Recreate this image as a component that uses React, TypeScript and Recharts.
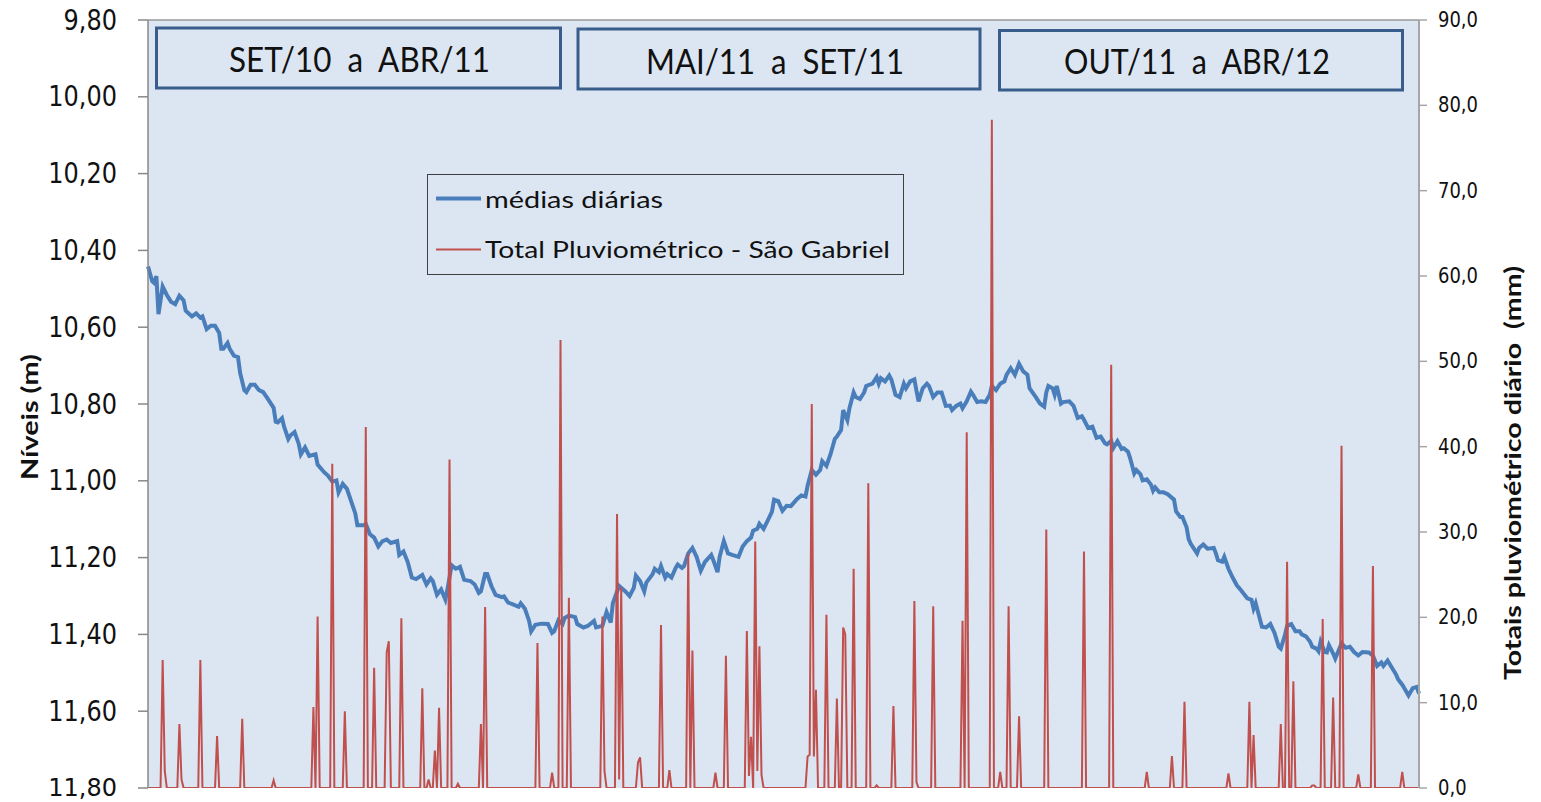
import React from 'react';
import { ComposedChart, Line, XAxis, YAxis, CartesianGrid, Legend } from 'recharts';

// ---- data (day index 0 = 01/SET/2010, 607 = 30/ABR/2012) ----
const levelDays = [
  0, 2, 3, 4, 5, 7, 9, 11, 13, 15, 17, 18, 21, 23, 25, 26, 28, 30, 32, 34, 35, 36, 38, 39, 41, 43, 44, 46, 47, 49,
  51, 53, 55, 57, 60, 61, 62, 64, 65, 67, 68, 70, 72, 73, 75, 77, 80, 81, 84, 86, 88, 90, 91, 93, 95, 97, 99, 100, 103, 104,
  106, 108, 110, 112, 114, 116, 119, 120, 122, 124, 126, 128, 131, 133, 135, 136, 138, 140, 142, 143, 145, 147, 149, 151, 154, 156, 158, 159, 161, 162,
  164, 166, 169, 170, 172, 174, 177, 178, 180, 182, 183, 185, 188, 191, 193, 194, 196, 198, 199, 201, 204, 205, 208, 210, 213, 214, 217, 219, 221, 222,
  225, 228, 230, 232, 233, 235, 237, 238, 241, 242, 244, 245, 247, 248, 250, 252, 253, 255, 256, 258, 260, 262, 264, 266, 269, 270, 272, 273, 275, 277,
  279, 282, 284, 286, 288, 289, 291, 292, 294, 296, 298, 299, 301, 303, 305, 307, 310, 312, 314, 315, 317, 319, 321, 322, 324, 326, 328, 329, 331, 332,
  334, 335, 337, 338, 340, 342, 343, 346, 348, 349, 350, 352, 354, 355, 357, 359, 361, 362, 364, 366, 367, 368, 370, 372, 373, 375, 377, 379, 381, 383,
  384, 386, 388, 389, 391, 393, 394, 396, 398, 400, 402, 403, 405, 407, 409, 410, 412, 414, 416, 418, 420, 421, 424, 426, 428, 429, 430, 432, 433, 434,
  436, 437, 440, 442, 444, 446, 447, 449, 451, 453, 455, 457, 458, 460, 461, 463, 465, 466, 468, 469, 471, 472, 474, 475, 477, 479, 480, 481, 483, 485,
  487, 490, 491, 493, 494, 496, 497, 498, 501, 502, 504, 506, 509, 510, 511, 513, 514, 516, 518, 520, 522, 523, 525, 527, 528, 529, 531, 532, 534, 536,
  538, 540, 541, 543, 544, 546, 548, 550, 551, 553, 555, 556, 558, 559, 560, 562, 563, 564, 566, 567, 569, 570, 572, 574, 576, 578, 580, 583, 585, 587,
  589, 590, 592, 594, 596, 597, 599, 600, 602, 604, 606, 607,
];
const levelValues = [
  10.442, 10.48, 10.485, 10.467, 10.566, 10.494, 10.516, 10.534, 10.54, 10.518, 10.53, 10.557, 10.572, 10.564, 10.575, 10.572, 10.605, 10.596, 10.596, 10.615, 10.656, 10.656, 10.641, 10.656, 10.674, 10.678, 10.719, 10.764, 10.769, 10.75,
  10.75, 10.764, 10.769, 10.785, 10.81, 10.846, 10.848, 10.837, 10.859, 10.891, 10.882, 10.873, 10.904, 10.931, 10.913, 10.935, 10.931, 10.958, 10.977, 10.987, 11.002, 10.999, 11.03, 11.008, 11.021, 11.053, 11.085, 11.116, 11.116, 11.112,
  11.139, 11.148, 11.171, 11.157, 11.153, 11.162, 11.157, 11.193, 11.184, 11.211, 11.252, 11.256, 11.245, 11.27, 11.254, 11.261, 11.297, 11.283, 11.309, 11.283, 11.22, 11.229, 11.224, 11.258, 11.261, 11.27, 11.292, 11.288, 11.243, 11.243,
  11.274, 11.297, 11.303, 11.301, 11.317, 11.321, 11.328, 11.319, 11.333, 11.365, 11.392, 11.375, 11.372, 11.373, 11.396, 11.392, 11.363, 11.373, 11.357, 11.351, 11.355, 11.373, 11.382, 11.378, 11.365, 11.382, 11.378, 11.342, 11.369, 11.319,
  11.274, 11.288, 11.3, 11.279, 11.247, 11.261, 11.288, 11.265, 11.243, 11.229, 11.238, 11.222, 11.252, 11.243, 11.252, 11.227, 11.218, 11.227, 11.222, 11.189, 11.175, 11.198, 11.234, 11.211, 11.193, 11.207, 11.238, 11.198, 11.157, 11.189,
  11.193, 11.198, 11.171, 11.157, 11.148, 11.13, 11.125, 11.112, 11.125, 11.103, 11.08, 11.049, 11.053, 11.078, 11.065, 11.066, 11.047, 11.038, 11.041, 11.013, 10.972, 10.984, 10.972, 10.949, 10.961, 10.93, 10.891, 10.885, 10.868, 10.816,
  10.842, 10.811, 10.77, 10.782, 10.787, 10.77, 10.753, 10.747, 10.73, 10.747, 10.733, 10.741, 10.726, 10.736, 10.776, 10.782, 10.747, 10.759, 10.741, 10.736, 10.765, 10.793, 10.759, 10.747, 10.753, 10.782, 10.77, 10.77, 10.805, 10.804,
  10.816, 10.805, 10.799, 10.811, 10.793, 10.768, 10.776, 10.795, 10.793, 10.795, 10.776, 10.753, 10.764, 10.747, 10.741, 10.724, 10.707, 10.724, 10.695, 10.715, 10.724, 10.759, 10.782, 10.799, 10.807, 10.77, 10.753, 10.759, 10.776, 10.753,
  10.799, 10.795, 10.793, 10.805, 10.836, 10.832, 10.841, 10.862, 10.859, 10.888, 10.885, 10.902, 10.905, 10.896, 10.915, 10.897, 10.917, 10.915, 10.924, 10.94, 10.981, 10.972, 10.983, 10.999, 10.996, 11.01, 11.026, 11.017, 11.03, 11.03,
  11.035, 11.049, 11.08, 11.094, 11.094, 11.121, 11.152, 11.164, 11.189, 11.175, 11.166, 11.177, 11.175, 11.189, 11.207, 11.211, 11.198, 11.229, 11.252, 11.272, 11.285, 11.292, 11.306, 11.31, 11.333, 11.319, 11.36, 11.38, 11.382, 11.373,
  11.396, 11.432, 11.437, 11.401, 11.378, 11.373, 11.392, 11.392, 11.4, 11.405, 11.419, 11.432, 11.437, 11.444, 11.419, 11.446, 11.447, 11.428, 11.45, 11.463, 11.437, 11.423, 11.435, 11.432, 11.446, 11.455, 11.446, 11.447, 11.455, 11.482,
  11.473, 11.482, 11.468, 11.486, 11.504, 11.517, 11.531, 11.54, 11.559, 11.54, 11.537, 11.554,
];
const rainDays = [
  7, 8, 15, 16, 25, 33, 45, 60, 79, 81, 88, 94, 104, 108, 114, 115, 121, 131, 134, 137, 139, 144, 148, 159, 161, 186, 193, 197, 201, 217,
  218, 224, 225, 226, 234, 235, 245, 249, 258, 260, 271, 276, 286, 287, 288, 290, 291, 292, 293, 315, 316, 317, 318, 319, 324, 329, 332, 333, 337, 344,
  348, 356, 366, 367, 375, 389, 391, 403, 407, 411, 416, 429, 447, 460, 477, 489, 495, 516, 526, 528, 541, 544, 547, 556, 557, 561, 566, 570, 578, 585,
  599,
];
const rainValues = [
  15.0, 2.0, 7.5, 1.0, 15.0, 6.1, 8.1, 0.9, 9.5, 20.1, 38.0, 9.0, 42.3, 14.1, 15.9, 17.2, 19.9, 11.7, 1.0, 4.4, 9.4, 38.5, 0.5, 7.5, 21.2, 17.0, 1.8, 52.5, 22.3, 20.1,
  2.0, 32.1, 1.0, 23.5, 3.0, 3.6, 19.1, 2.1, 27.5, 16.1, 1.8, 15.5, 18.4, 1.4, 6.0, 28.9, 2.0, 16.6, 1.5, 3.7, 3.9, 45.0, 3.7, 11.5, 20.3, 10.5, 18.8, 18.0, 25.7, 35.7,
  0.3, 9.6, 21.9, 0.7, 21.3, 19.6, 41.7, 78.3, 1.9, 21.3, 8.4, 30.3, 27.7, 49.6, 1.9, 3.75, 10.1, 1.7, 10.1, 6.2, 7.5, 26.5, 12.5, 0.3, 0.3, 19.8, 10.6, 40.1, 1.6, 26.0,
  1.9,
];
const levelTicks = [9.8, 10.0, 10.2, 10.4, 10.6, 10.8, 11.0, 11.2, 11.4, 11.6, 11.8];
const rainTicks = [0, 10, 20, 30, 40, 50, 60, 70, 80, 90];
const periodLabels = ['SET/10  a  ABR/11', 'MAI/11  a  SET/11', 'OUT/11  a  ABR/12'];
const seriesNames = ['médias diárias', 'Total Pluviométrico - São Gabriel'];
const axisTitles = ['Níveis (m)', 'Totais pluviométrico diário  (mm)'];
const DAY_COUNT = 608;

const levelByDay = new Map<number, number>(levelDays.map((d, i) => [d, levelValues[i]]));
const rainByDay = new Map<number, number>(rainDays.map((d, i) => [d, rainValues[i]]));
const rows = Array.from({ length: DAY_COUNT }, (_, day) => ({
  day,
  level: levelByDay.has(day) ? levelByDay.get(day) : null,
  rain: rainByDay.has(day) ? rainByDay.get(day) : 0,
}));

const BLUE = '#4a7ebb';
const RED = '#c0504d';
const BG = '#dce6f2';
const BOX = '#385d8a';

const fmt2 = (v: number) => v.toFixed(2).replace('.', ',');
const fmt1 = (v: number) => v.toFixed(1).replace('.', ',');

const LeftTick = (props: any) => {
  const { x, y, payload } = props;
  const k = y > 780 ? 1 : 1.15;
  return (
    <text
      x={x}
      y={y}
      textAnchor="end"
      dominantBaseline="central"
      fontFamily="DejaVu Sans"
      fontSize={24}
      fill="#111"
      transform={`translate(0 ${y}) scale(1 ${k}) translate(0 ${-y})`}
    >
      {fmt2(payload.value)}
    </text>
  );
};

const RightTick = (props: any) => {
  const { x, y, payload } = props;
  return (
    <text
      x={x}
      y={y}
      textAnchor="start"
      dominantBaseline="central"
      fontFamily="DejaVu Sans"
      fontSize={18}
      fill="#111"
      transform={`translate(0 ${y}) scale(1 1.15) translate(0 ${-y})`}
    >
      {fmt1(payload.value)}
    </text>
  );
};

const LegendBox = () => (
  <div
    style={{
      width: 477,
      height: 101,
      boxSizing: 'border-box',
      border: '1.5px solid #404040',
      background: BG,
    }}
  >
    <svg width={474} height={98} style={{ display: 'block' }}>
      <line x1={8} x2={53} y1={23.5} y2={23.5} stroke={BLUE} strokeWidth={4} />
      <text x={57} y={33} fontFamily="Lato" fontSize={24} fill="#111" textLength={178} lengthAdjust="spacingAndGlyphs">
        {seriesNames[0]}
      </text>
      <line x1={8} x2={53} y1={74.5} y2={74.5} stroke={RED} strokeWidth={2} />
      <text x={57} y={83} fontFamily="Lato" fontSize={24} fill="#111" textLength={405} lengthAdjust="spacingAndGlyphs">
        {seriesNames[1]}
      </text>
    </svg>
  </div>
);

const boxes = [
  { x: 156.5, y: 28, w: 404, h: 60, cx: 359.5, by: 72, tl: 261 },
  { x: 578, y: 29, w: 402, h: 60, cx: 775, by: 73.5, tl: 258 },
  { x: 999.5, y: 30.5, w: 403, h: 59.5, cx: 1197, by: 73.5, tl: 266 },
];

export default function App() {
  return (
    <div style={{ position: 'absolute', left: 0, top: 0, width: 1541, height: 802, background: '#fff' }}>
      <ComposedChart
        width={1541}
        height={802}
        data={rows}
        margin={{ top: 20, right: 0, bottom: 14, left: 0 }}
      >
        <CartesianGrid fill={BG} stroke="none" horizontal={false} vertical={false} />
        <XAxis
          dataKey="day"
          type="number"
          domain={[0, DAY_COUNT - 1]}
          tick={false}
          tickLine={false}
          height={0}
          axisLine={{ stroke: '#404040', strokeWidth: 1.5 }}
        />
        <YAxis
          yAxisId="level"
          orientation="left"
          reversed
          domain={[9.8, 11.8]}
          ticks={levelTicks}
          interval={0}
          width={148}
          tickSize={10}
          tickMargin={21}
          tick={<LeftTick />}
          axisLine={{ stroke: '#888', strokeWidth: 1.5 }}
          tickLine={{ stroke: '#888', strokeWidth: 1.5 }}
          allowDataOverflow
        />
        <YAxis
          yAxisId="rain"
          orientation="right"
          domain={[0, 90]}
          ticks={rainTicks}
          interval={0}
          width={122}
          tickSize={8}
          tickMargin={11}
          tick={<RightTick />}
          axisLine={{ stroke: '#a6a6a6', strokeWidth: 2 }}
          tickLine={{ stroke: '#a6a6a6', strokeWidth: 1.5 }}
          allowDataOverflow
        />
        <Legend
          layout="horizontal"
          verticalAlign="middle"
          align="center"
          content={() => <LegendBox />}
          wrapperStyle={{ left: 427, top: 174, width: 477, height: 101 }}
        />
        <Line
          yAxisId="level"
          dataKey="level"
          name={seriesNames[0]}
          type="linear"
          stroke={BLUE}
          strokeWidth={4}
          dot={false}
          activeDot={false}
          connectNulls
          isAnimationActive={false}
        />
        <Line
          yAxisId="rain"
          dataKey="rain"
          name={seriesNames[1]}
          type="linear"
          stroke={RED}
          strokeWidth={2}
          dot={false}
          activeDot={false}
          isAnimationActive={false}
        />
      </ComposedChart>
      <svg
        width={1541}
        height={802}
        style={{ position: 'absolute', left: 0, top: 0, pointerEvents: 'none' }}
      >
        <line x1={148} x2={1419} y1={20} y2={20} stroke="#9a9a9a" strokeWidth={1.5} />
        {boxes.map((b, i) => (
          <g key={i}>
            <rect x={b.x} y={b.y} width={b.w} height={b.h} fill={BG} stroke={BOX} strokeWidth={3} />
            <text
              x={b.cx}
              y={b.by}
              textAnchor="middle"
              fontFamily="Lato"
              fontSize={34}
              fill="#111"
              style={{ whiteSpace: 'pre' }}
              textLength={b.tl}
              lengthAdjust="spacingAndGlyphs"
            >
              {periodLabels[i]}
            </text>
          </g>
        ))}
        <text
          transform="translate(38 417) rotate(-90)"
          textAnchor="middle"
          fontFamily="Lato"
          fontWeight="bold"
          fontSize={22}
          fill="#111"
          textLength={126}
          lengthAdjust="spacingAndGlyphs"
        >
          {axisTitles[0]}
        </text>
        <text
          transform="translate(1521 473) rotate(-90)"
          textAnchor="middle"
          fontFamily="Lato"
          fontWeight="bold"
          fontSize={22}
          fill="#111"
          style={{ whiteSpace: 'pre' }}
          textLength={414}
          lengthAdjust="spacingAndGlyphs"
        >
          {axisTitles[1]}
        </text>
      </svg>
    </div>
  );
}
